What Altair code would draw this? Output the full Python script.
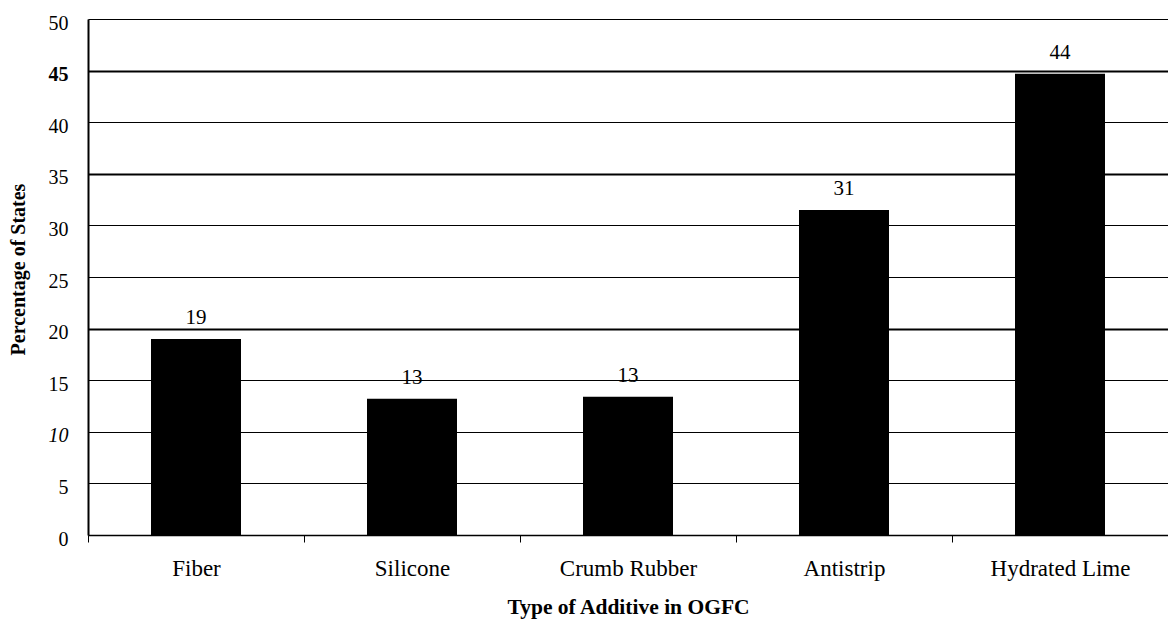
import altair as alt
import pandas as pd

categories = ["Fiber", "Silicone", "Crumb Rubber", "Antistrip", "Hydrated Lime"]
values = [19.0, 13.2, 13.4, 31.5, 44.7]
labels = ["19", "13", "13", "31", "44"]
y_ticks = [0, 5, 10, 15, 20, 25, 30, 35, 40, 45, 50]

df = pd.DataFrame({"cat": categories, "val": values, "lab": labels})

FONT = "Liberation Serif"

x = alt.X(
    "cat:N",
    sort=categories,
    title="Type of Additive in OGFC",
    scale=alt.Scale(paddingInner=0, paddingOuter=0),
    axis=alt.Axis(
        labelAngle=0,
        tickBand="extent",
        ticks=True,
        tickSize=7,
        tickColor="black",
        domainColor="black",
        domainWidth=1.5,
        labelFont=FONT,
        labelFontSize=23,
        labelColor="black",
        labelPadding=15,
        titleFont=FONT,
        titleFontSize=21.5,
        titleFontWeight="bold",
        titleColor="black",
        titlePadding=16,
        grid=False,
    ),
)

y = alt.Y(
    "val:Q",
    title="Percentage of States",
    scale=alt.Scale(domain=[0, 50], nice=False),
    axis=alt.Axis(
        values=y_ticks,
        ticks=False,
        domainColor="black",
        domainWidth=2,
        labelFont=FONT,
        labelFontSize=20,
        labelColor="black",
        labelPadding=20,
        labelOffset=4,
        labelFontStyle=alt.condition("datum.value == 10", alt.value("italic"), alt.value("normal")),
        labelFontWeight=alt.condition("datum.value == 45", alt.value("bold"), alt.value("normal")),
        titleFont=FONT,
        titleFontSize=20,
        titleFontWeight="bold",
        titleColor="black",
        titlePadding=20,
        titleY=250,
        grid=True,
        gridColor="black",
        gridOpacity=1,
        gridWidth=alt.condition("datum.value == 20 || datum.value == 35 || datum.value == 45", alt.value(2), alt.value(1)),
    ),
)

bars = alt.Chart(df).mark_bar(color="black", size=90).encode(x=x, y=y)

text = alt.Chart(df).mark_text(
    font=FONT, fontSize=21, color="black", baseline="alphabetic", dy=-15
).encode(x=alt.X("cat:N", sort=categories), y=alt.Y("val:Q"), text="lab:N")

chart = (
    alt.layer(bars, text)
    .properties(
        width=1080,
        height=516,
        autosize=alt.AutoSizeParams(type="none"),
        padding={"left": 80, "top": 11, "right": 0, "bottom": 85},
    )
    .configure_view(stroke=None)
    .configure(background="white")
)

chart.save("out.html", embed_options={"renderer": "svg", "actions": False})
